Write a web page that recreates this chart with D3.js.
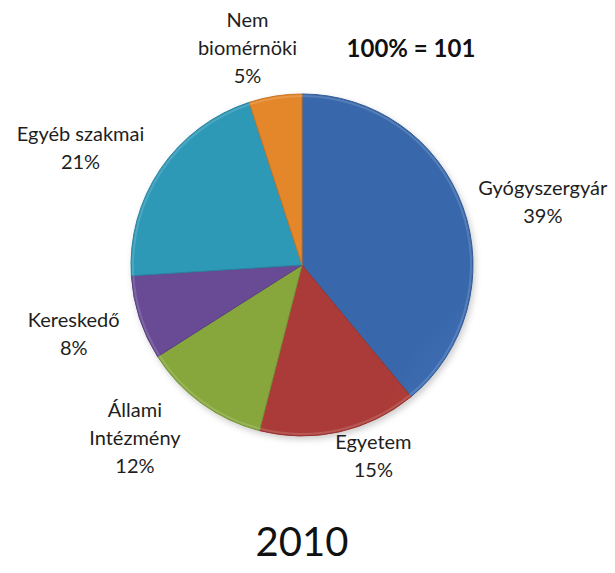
<!DOCTYPE html>
<html>
<head>
<meta charset="utf-8">
<script src="https://cdn.jsdelivr.net/npm/d3@7"></script>
<style>
  body { margin: 0; background: #fff; }
  text { font-family: Lato, "Open Sans", sans-serif; fill: #1e1e1e; }
</style>
</head>
<body>
<div id="chart"></div>
<script>
// data
var categories = ["Gyógyszergyár", "Egyetem", "Állami Intézmény", "Kereskedő", "Egyéb szakmai", "Nem biomérnöki"];
var labelLines = [["Gyógyszergyár"], ["Egyetem"], ["Állami", "Intézmény"], ["Kereskedő"], ["Egyéb szakmai"], ["Nem", "biomérnöki"]];
var shares = [39, 15, 12, 8, 21, 5];
var totalLabel = "100% = 101";
var yearLabel = "2010";

// slice colours (Office palette)
var colors = ["#3d70b8", "#b83f3b", "#91b343", "#6f519f", "#33a3c4", "#f5902c"];
// small nudges so labels sit where the original best-fit put them
var labelNudge = [[15, 17], [19, -44], [-26, -22], [0, -6], [-23, 17], [-17, 19]];

var width = 615, height = 573;
var cx = 302, cy = 265, radius = 171, labelRadius = 240, lineH = 28;

var svg = d3.select("#chart").append("svg")
   .attr("width", width)
   .attr("height", height);

var defs = svg.append("defs");

var shadow = defs.append("filter").attr("id", "shadow")
   .attr("x", "-20%").attr("y", "-20%").attr("width", "140%").attr("height", "140%");
shadow.append("feDropShadow")
   .attr("dx", 2).attr("dy", 3).attr("stdDeviation", 3)
   .attr("flood-color", "#000").attr("flood-opacity", 0.2);

// one radial gradient per slice: light near the top, a bit darker at the rim
colors.forEach(function(c, i) {
   var g = defs.append("radialGradient")
      .attr("id", "grad" + i)
      .attr("gradientUnits", "userSpaceOnUse")
      .attr("cx", cx).attr("cy", cy - radius * 0.3)
      .attr("r", radius * 1.35);
   g.append("stop").attr("offset", "0%").attr("stop-color", d3.color(c).brighter(0.3));
   g.append("stop").attr("offset", "70%").attr("stop-color", c);
   g.append("stop").attr("offset", "100%").attr("stop-color", d3.color(c).darker(0.2));
});

var pie = d3.pie().sort(null).value(d => d);
var arcs = pie(shares);

var arc = d3.arc().innerRadius(0).outerRadius(radius);
var labelArc = d3.arc().innerRadius(labelRadius).outerRadius(labelRadius);

var g = svg.append("g").attr("transform", "translate(" + cx + "," + cy + ")");

g.append("g").attr("filter", "url(#shadow)")
   .selectAll("path")
   .data(arcs)
   .join("path")
   .attr("d", arc)
   .attr("fill", (d, i) => "url(#grad" + i + ")")
   .attr("stroke", (d, i) => d3.color(colors[i]).darker(0.6))
   .attr("stroke-width", 1)
   .attr("stroke-linejoin", "round");

// light rim highlight on the edge
g.append("g").selectAll("path")
   .data(arcs)
   .join("path")
   .attr("d", d3.arc().innerRadius(radius - 3).outerRadius(radius - 1))
   .attr("fill", "#fff")
   .attr("opacity", 0.15);

// labels
var labels = g.selectAll(".label")
   .data(arcs)
   .join("text")
   .attr("class", "label")
   .attr("text-anchor", "middle")
   .attr("font-size", 20)
   .attr("transform", function(d, i) {
      var p = labelArc.centroid(d);
      return "translate(" + (p[0] + labelNudge[i][0]) + "," + (p[1] + labelNudge[i][1]) + ")";
   });

labels.each(function(d, i) {
   var lines = labelLines[i].concat([shares[i] + "%"]);
   var t = d3.select(this);
   var start = -(lines.length - 1) * lineH / 2;
   lines.forEach(function(s, k) {
      t.append("tspan")
         .attr("x", 0)
         .attr("y", start + k * lineH)
         .attr("dominant-baseline", "central")
         .text(s);
   });
});

svg.append("text")
   .attr("x", 411).attr("y", 47)
   .attr("text-anchor", "middle")
   .attr("dominant-baseline", "central")
   .attr("font-size", 24)
   .attr("font-weight", "bold")
   .style("fill", "#111")
   .text(totalLabel);

svg.append("text")
   .attr("x", 302).attr("y", 541)
   .attr("text-anchor", "middle")
   .attr("dominant-baseline", "central")
   .attr("font-size", 40)
   .style("fill", "#111")
   .text(yearLabel);
</script>
</body>
</html>
